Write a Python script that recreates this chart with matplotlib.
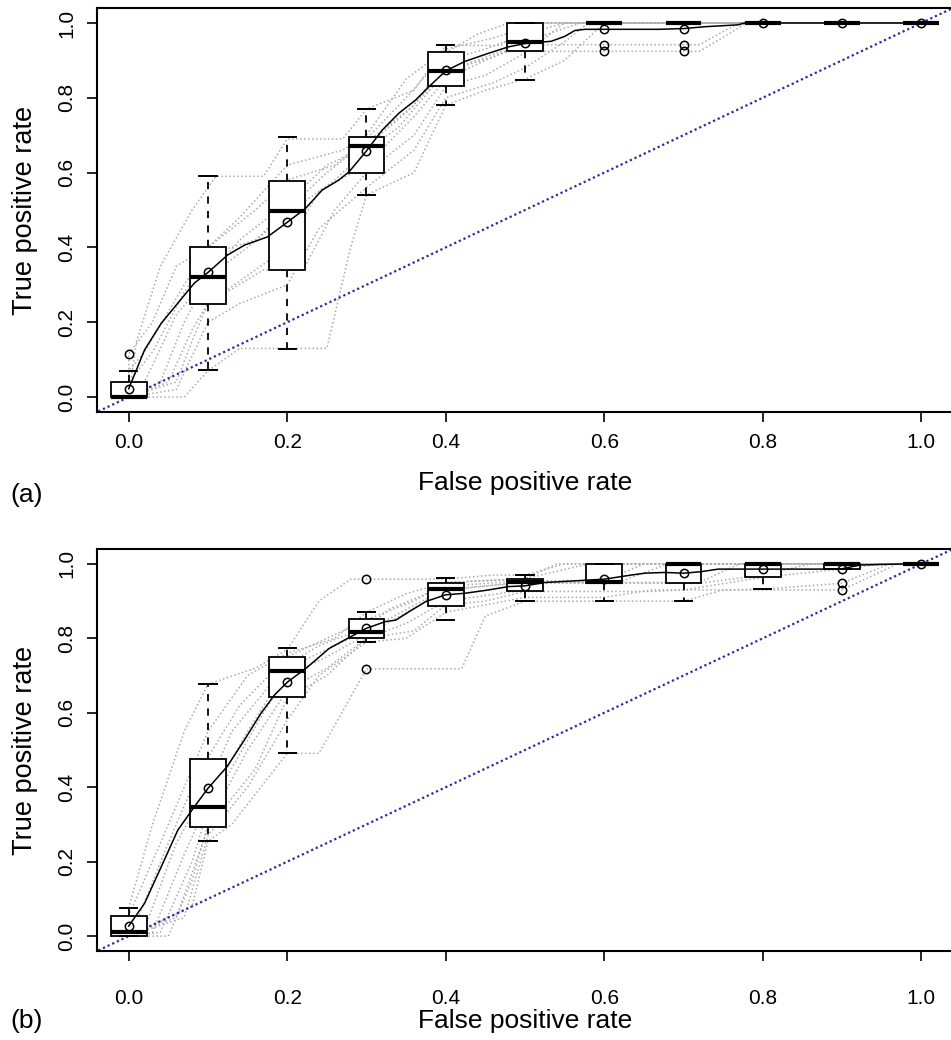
import matplotlib
matplotlib.use("Agg")
import matplotlib.pyplot as plt

plt.rcParams['font.family'] = ['Liberation Sans', 'DejaVu Sans']

# FPR positions where the boxplots are drawn
pos = [0.0, 0.1, 0.2, 0.3, 0.4, 0.5, 0.6, 0.7, 0.8, 0.9, 1.0]

# panel (a): boxplot statistics of TPR at each FPR
a_whislo = [0.0, 0.072, 0.129, 0.54, 0.782, 0.847, 1.0, 1.0, 1.0, 1.0, 1.0]
a_q1 = [0.0, 0.248, 0.339, 0.60, 0.832, 0.924, 1.0, 1.0, 1.0, 1.0, 1.0]
a_med = [0.0, 0.322, 0.496, 0.671, 0.871, 0.95, 1.0, 1.0, 1.0, 1.0, 1.0]
a_q3 = [0.039, 0.40, 0.577, 0.694, 0.923, 1.0, 1.0, 1.0, 1.0, 1.0, 1.0]
a_whishi = [0.07, 0.59, 0.695, 0.771, 0.942, 1.0, 1.0, 1.0, 1.0, 1.0, 1.0]
a_mean = [0.022, 0.333, 0.467, 0.658, 0.874, 0.947, 0.985, 0.985, 1.0, 1.0, 1.0]
a_fliers = [[0.114], [], [], [], [], [], [0.942, 0.924], [0.942, 0.924], [], [], []]

# panel (b)
b_whislo = [0.0, 0.255, 0.491, 0.791, 0.849, 0.90, 0.90, 0.90, 0.932, 0.986, 1.0]
b_q1 = [0.0, 0.292, 0.643, 0.80, 0.887, 0.926, 0.948, 0.948, 0.964, 0.986, 1.0]
b_med = [0.011, 0.348, 0.712, 0.816, 0.933, 0.952, 0.952, 1.0, 1.0, 1.0, 1.0]
b_q3 = [0.055, 0.477, 0.75, 0.852, 0.95, 0.959, 1.0, 1.0, 1.0, 1.0, 1.0]
b_whishi = [0.076, 0.677, 0.773, 0.872, 0.961, 0.97, 1.0, 1.0, 1.0, 1.0, 1.0]
b_mean = [0.027, 0.397, 0.682, 0.827, 0.917, 0.941, 0.959, 0.975, 0.986, 0.987, 1.0]
b_fliers = [[], [], [], [0.959, 0.718], [], [], [], [], [], [0.948, 0.930], []]

# vertically averaged ROC curves
a_avg_x = [0, 0.02, 0.041, 0.062, 0.083, 0.1, 0.125, 0.146, 0.175, 0.2, 0.223, 0.244,
           0.265, 0.278, 0.3, 0.32, 0.341, 0.362, 0.379, 0.4, 0.424, 0.454, 0.479,
           0.5, 0.533, 0.55, 0.563, 0.576, 0.668, 0.7, 0.727, 0.769, 0.777, 1.0]
a_avg_y = [0.022, 0.126, 0.197, 0.251, 0.305, 0.333, 0.38, 0.406, 0.428, 0.467, 0.504,
           0.553, 0.58, 0.602, 0.658, 0.714, 0.759, 0.794, 0.83, 0.872, 0.897, 0.919,
           0.936, 0.945, 0.951, 0.964, 0.98, 0.983, 0.983, 0.985, 0.99, 0.995, 1.0, 1.0]
b_avg_x = [0, 0.02, 0.041, 0.062, 0.083, 0.1, 0.124, 0.146, 0.167, 0.184, 0.2, 0.224,
           0.253, 0.278, 0.3, 0.324, 0.337, 0.354, 0.375, 0.4, 0.424, 0.454, 0.479,
           0.5, 0.525, 0.559, 0.6, 0.634, 0.651, 0.676, 0.7, 0.722, 0.744, 0.8, 0.877,
           0.9, 0.923, 0.98, 1.0]
b_avg_y = [0.027, 0.088, 0.186, 0.285, 0.348, 0.397, 0.455, 0.527, 0.599, 0.648, 0.682,
           0.72, 0.773, 0.802, 0.827, 0.845, 0.849, 0.872, 0.899, 0.917, 0.921, 0.93,
           0.939, 0.941, 0.95, 0.954, 0.959, 0.97, 0.975, 0.977, 0.975, 0.979, 0.986,
           0.986, 0.986, 0.987, 0.997, 1.0, 1.0]

# individual ROC curves (grey dotted), panel (a)
a_runs = [
    ([0, 0.01, 0.04, 0.08, 0.11, 0.17, 0.20, 0.27, 0.30, 0.36, 0.40, 0.47, 0.50, 1],
     [0, 0.15, 0.35, 0.50, 0.59, 0.59, 0.69, 0.69, 0.77, 0.82, 0.94, 0.94, 1.0, 1]),
    ([0, 0, 0.03, 0.06, 0.10, 0.16, 0.20, 0.26, 0.30, 0.35, 0.40, 0.44, 0.48, 1],
     [0, 0.115, 0.20, 0.35, 0.40, 0.50, 0.58, 0.62, 0.69, 0.80, 0.92, 0.97, 1.0, 1]),
    ([0, 0, 0.02, 0.07, 0.10, 0.14, 0.20, 0.27, 0.30, 0.35, 0.40, 0.46, 0.52, 1],
     [0, 0.07, 0.12, 0.30, 0.40, 0.48, 0.62, 0.66, 0.70, 0.85, 0.93, 0.96, 1.0, 1]),
    ([0, 0, 0.03, 0.07, 0.10, 0.16, 0.20, 0.25, 0.30, 0.36, 0.40, 0.45, 0.50, 0.55, 1],
     [0, 0.04, 0.12, 0.28, 0.38, 0.42, 0.50, 0.60, 0.68, 0.78, 0.90, 0.93, 0.97, 1.0, 1]),
    ([0, 0.02, 0.06, 0.10, 0.14, 0.20, 0.25, 0.30, 0.35, 0.40, 0.46, 0.50, 0.57, 1],
     [0, 0.04, 0.22, 0.32, 0.42, 0.52, 0.62, 0.67, 0.76, 0.87, 0.91, 0.95, 1.0, 1]),
    ([0, 0.04, 0.07, 0.10, 0.15, 0.20, 0.26, 0.30, 0.34, 0.40, 0.47, 0.72, 0.78, 1],
     [0, 0.04, 0.20, 0.32, 0.40, 0.49, 0.58, 0.66, 0.72, 0.87, 0.924, 0.924, 1.0, 1]),
    ([0, 0.05, 0.08, 0.10, 0.16, 0.20, 0.24, 0.30, 0.36, 0.40, 0.45, 0.50, 0.72, 0.77, 1],
     [0, 0.04, 0.18, 0.25, 0.34, 0.40, 0.55, 0.62, 0.75, 0.85, 0.90, 0.942, 0.942, 1.0, 1]),
    ([0, 0.06, 0.08, 0.10, 0.17, 0.22, 0.26, 0.30, 0.36, 0.40, 0.45, 0.50, 0.55, 1],
     [0, 0.04, 0.15, 0.25, 0.34, 0.34, 0.50, 0.60, 0.70, 0.83, 0.86, 0.92, 1.0, 1]),
    ([0, 0.06, 0.10, 0.14, 0.20, 0.24, 0.30, 0.36, 0.40, 0.46, 0.50, 0.55, 0.58, 1],
     [0, 0.02, 0.20, 0.25, 0.30, 0.45, 0.56, 0.66, 0.80, 0.84, 0.88, 0.95, 1.0, 1]),
    ([0, 0.07, 0.10, 0.14, 0.25, 0.28, 0.30, 0.36, 0.40, 0.45, 0.50, 0.55, 0.60, 1],
     [0, 0.0, 0.07, 0.13, 0.13, 0.40, 0.54, 0.60, 0.78, 0.82, 0.85, 0.90, 1.0, 1]),
]

# panel (b)
b_runs = [
    ([0, 0, 0.03, 0.07, 0.10, 0.16, 0.20, 0.24, 0.28, 0.40, 0.46, 0.50, 0.55, 1],
     [0, 0.076, 0.30, 0.55, 0.677, 0.72, 0.77, 0.90, 0.959, 0.959, 0.97, 0.97, 1.0, 1]),
    ([0, 0, 0.04, 0.08, 0.10, 0.15, 0.20, 0.26, 0.30, 0.35, 0.40, 0.50, 0.54, 1],
     [0, 0.055, 0.25, 0.45, 0.55, 0.70, 0.76, 0.80, 0.87, 0.92, 0.95, 0.96, 1.0, 1]),
    ([0, 0.01, 0.05, 0.08, 0.10, 0.14, 0.20, 0.25, 0.30, 0.36, 0.40, 0.50, 0.58, 1],
     [0, 0.04, 0.25, 0.40, 0.48, 0.62, 0.75, 0.80, 0.85, 0.90, 0.95, 0.96, 1.0, 1]),
    ([0, 0.02, 0.06, 0.10, 0.13, 0.20, 0.24, 0.30, 0.33, 0.40, 0.50, 0.60, 0.65, 1],
     [0, 0.02, 0.25, 0.40, 0.55, 0.73, 0.78, 0.83, 0.88, 0.94, 0.955, 0.955, 1.0, 1]),
    ([0, 0.03, 0.07, 0.10, 0.15, 0.20, 0.26, 0.30, 0.37, 0.40, 0.50, 0.62, 0.68, 1],
     [0, 0.01, 0.22, 0.36, 0.55, 0.72, 0.78, 0.82, 0.90, 0.93, 0.952, 0.952, 1.0, 1]),
    ([0, 0.04, 0.08, 0.10, 0.17, 0.20, 0.25, 0.30, 0.36, 0.40, 0.50, 0.72, 0.77, 1],
     [0, 0.01, 0.20, 0.34, 0.60, 0.70, 0.75, 0.81, 0.88, 0.93, 0.95, 0.95, 1.0, 1]),
    ([0, 0.05, 0.08, 0.10, 0.15, 0.20, 0.25, 0.30, 0.35, 0.40, 0.50, 0.52, 0.72, 0.80, 0.86, 1],
     [0, 0.0, 0.15, 0.30, 0.50, 0.66, 0.72, 0.80, 0.84, 0.90, 0.93, 0.948, 0.948, 0.97, 1.0, 1]),
    ([0, 0.06, 0.10, 0.16, 0.20, 0.25, 0.30, 0.36, 0.40, 0.45, 0.50, 0.66, 0.70, 0.80, 0.90, 0.95, 1],
     [0, 0.05, 0.29, 0.45, 0.64, 0.70, 0.80, 0.82, 0.89, 0.90, 0.926, 0.926, 0.93, 0.964, 0.986, 1.0, 1]),
    ([0, 0.07, 0.10, 0.15, 0.20, 0.24, 0.30, 0.35, 0.40, 0.50, 0.60, 0.66, 0.90, 0.97, 1],
     [0, 0.05, 0.27, 0.40, 0.58, 0.70, 0.79, 0.80, 0.87, 0.91, 0.91, 0.93, 0.93, 1.0, 1]),
    ([0, 0.08, 0.10, 0.13, 0.20, 0.24, 0.30, 0.42, 0.45, 0.50, 0.70, 0.75, 0.80, 0.90, 0.96, 1],
     [0, 0.08, 0.255, 0.30, 0.491, 0.491, 0.718, 0.718, 0.86, 0.90, 0.90, 0.93, 0.932, 0.948, 1.0, 1]),
]

ticks = [0.0, 0.2, 0.4, 0.6, 0.8, 1.0]
tick_labels = ['0.0', '0.2', '0.4', '0.6', '0.8', '1.0']


def draw_panel(ax, runs, whislo, q1, med, q3, whishi, mean, fliers, avg_x, avg_y):
    # grey individual curves
    for fx, fy in runs:
        ax.plot(fx, fy, color='#ababab', lw=1.1, linestyle=(0, (1, 1.6)), zorder=1)
    # chance diagonal
    ax.plot([-0.05, 1.05], [-0.05, 1.05], color='#2a2aa6', lw=1.6,
            linestyle=(0, (1, 1.3)), zorder=2)
    stats = []
    for i in range(len(pos)):
        stats.append({'whislo': whislo[i], 'q1': q1[i], 'med': med[i], 'q3': q3[i],
                      'whishi': whishi[i], 'mean': mean[i], 'fliers': fliers[i]})
    ax.bxp(stats, positions=pos, widths=0.045, capwidths=0.022, patch_artist=True,
           showmeans=True, manage_ticks=False,
           boxprops=dict(facecolor='white', edgecolor='black', lw=1.3),
           medianprops=dict(color='black', lw=3.0),
           whiskerprops=dict(color='black', lw=1.3, linestyle=(0, (4, 4))),
           capprops=dict(color='black', lw=1.4),
           meanprops=dict(marker='o', markerfacecolor='none', markeredgecolor='black',
                          markersize=6, markeredgewidth=1.1),
           flierprops=dict(marker='o', markerfacecolor='none', markeredgecolor='black',
                           markersize=6, markeredgewidth=1.1),
           zorder=3)
    ax.plot(avg_x, avg_y, color='black', lw=1.1, zorder=4)
    ax.set_xlim(-0.04, 1.04)
    ax.set_ylim(-0.04, 1.04)
    ax.set_xticks(ticks)
    ax.set_xticklabels(tick_labels)
    ax.set_yticks(ticks)
    ax.set_yticklabels(tick_labels, rotation=90, va='center')
    ax.tick_params(direction='out', length=7, width=1.2, labelsize=15, pad=8)
    for s in ax.spines.values():
        s.set_linewidth(1.5)


fig = plt.figure(figsize=(9.51, 10.4), dpi=100)
ax1 = fig.add_axes([97 / 951, 1 - 412 / 1040, 856 / 951, 404 / 1040])
ax2 = fig.add_axes([97 / 951, 1 - 951 / 1040, 856 / 951, 402 / 1040])

draw_panel(ax1, a_runs, a_whislo, a_q1, a_med, a_q3, a_whishi, a_mean, a_fliers,
           a_avg_x, a_avg_y)
draw_panel(ax2, b_runs, b_whislo, b_q1, b_med, b_q3, b_whishi, b_mean, b_fliers,
           b_avg_x, b_avg_y)
ax2.tick_params(axis='x', pad=20)

fig.text(525 / 951, 1 - 483 / 1040, 'False positive rate', fontsize=19, ha='center', va='center')
fig.text(525 / 951, 1 - 1021 / 1040, 'False positive rate', fontsize=19, ha='center', va='center')
fig.text(25 / 951, 1 - 210 / 1040, 'True positive rate', fontsize=19.5, rotation=90,
         ha='center', va='center')
fig.text(25 / 951, 1 - 750 / 1040, 'True positive rate', fontsize=19.5, rotation=90,
         ha='center', va='center')
fig.text(10 / 951, 1 - 495 / 1040, '(a)', fontsize=19, ha='left', va='center')
fig.text(10 / 951, 1 - 1021 / 1040, '(b)', fontsize=19, ha='left', va='center')

fig.savefig('out.png', dpi=100)
